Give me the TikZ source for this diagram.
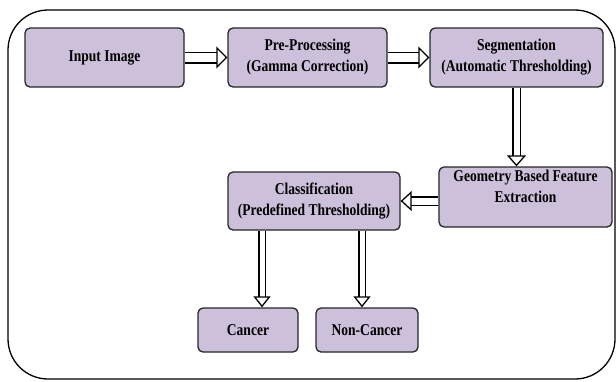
\documentclass[tikz,border=0pt]{standalone}
\usepackage{fontspec}
\setmainfont{Liberation Serif}[FakeStretch=0.82]
\usetikzlibrary{arrows.meta}
\definecolor{boxfill}{RGB}{204,192,218}
\tikzset{
  stage/.style={draw=black!85, fill=boxfill, line width=1.3pt, rounded corners=5pt,
    align=center, inner sep=0pt, font=\bfseries\fontsize{16.5}{21}\selectfont},
  % hollow block arrow: outer black, inner white, open head
  flow/.style n args={3}{draw=white, line width=1.3pt,
    preaction={draw=black, line width=#1, arrows=-, shorten >=9pt},
    preaction={draw=white, line width=#2, arrows=-, shorten >=8pt},
    -{Triangle[open, color=black, fill=white, length=11pt, width=#3]}}
}
\begin{document}
\begin{tikzpicture}[x=1pt,y=-1pt]
                \useasboundingbox (0,0) rectangle (616,381);
                \draw[line width=1.3pt, rounded corners=40pt] (8,10) rectangle (615,379);

                \node[stage, minimum width=159pt, minimum height=59pt] (input) at (104.5,57.5) {Input Image};
                \node[stage, minimum width=159pt, minimum height=59pt] (pre) at (307.5,57.5) {Pre-Processing\\(Gamma Correction)};
                \node[stage, minimum width=173pt, minimum height=59pt] (seg) at (516.5,57.5) {Segmentation\\(Automatic Thresholding)};
                \draw[flow={12pt}{9pt}{22pt}] (input) -- (pre);
                \draw[flow={12pt}{9pt}{22pt}] (pre) -- (seg);

                \node[stage, minimum width=173pt, minimum height=60pt, text depth=22pt] (geo) at (525.5,197) {Geometry Based Feature\\Extraction};
                \node[stage, minimum width=172pt, minimum height=58pt] (cls) at (314,201) {Classification\\(Predefined Thresholding)};
                \draw[flow={9pt}{6pt}{19pt}] (seg.south) -- (seg.south |- geo.north);
                \draw[flow={10pt}{7pt}{20pt}] (geo.west |- cls.east) -- (cls.east);

                \node[stage, minimum width=100pt, minimum height=44pt] (cancer) at (248,330) {Cancer};
                \node[stage, minimum width=102pt, minimum height=44pt] (noncancer) at (367,330) {Non-Cancer};
                \coordinate (c1) at ([xshift=14pt]cancer.north);
                \coordinate (c2) at ([xshift=-5pt]noncancer.north);
                \draw[flow={8pt}{5pt}{17pt}] (cls.south -| c1) -- (c1);
                \draw[flow={8pt}{5pt}{17pt}] (cls.south -| c2) -- (c2);
            \end{tikzpicture}
\end{document}
